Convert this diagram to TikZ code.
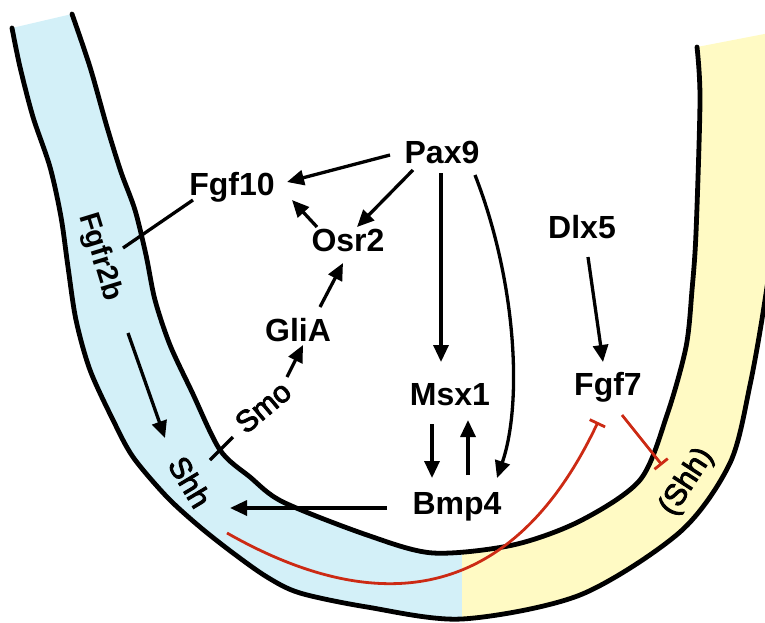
\documentclass[tikz,border=0pt]{standalone}
\usepackage{fontspec}
\setmainfont{Liberation Sans}
\newfontfamily\tissuefont{Liberation Sans}[FakeBold=3]
\usetikzlibrary{arrows.meta,calc}
\definecolor{bandblue}{RGB}{211,240,248}
\definecolor{bandyellow}{RGB}{255,250,196}
\definecolor{inhred}{RGB}{204,42,20}
\begin{document}
\begin{tikzpicture}[x=1pt,y=-1pt,
  gene/.style={font=\bfseries\fontsize{32}{36}\selectfont, inner sep=0pt},
  tissue/.style={font=\tissuefont\fontsize{30}{34}\selectfont, inner sep=0pt},
  arr/.style={line width=3.3pt, -{Triangle[length=17pt,width=15pt]}},
  link/.style={line width=3.3pt},
  inh/.style={line width=2.8pt, draw=inhred, -{Bar[width=17pt,line width=2.8pt]}},
  bandedge/.style={line width=4.8pt, line join=round, line cap=round}]
\useasboundingbox (0,0) rectangle (765,622);
% ---- band ----
\begin{scope}
\clip (0,0) rectangle (765,622);
\begin{scope}
\clip (-20,-20) rectangle (462,650);
\fill[bandblue] plot[smooth] coordinates {(12,28) (20,67) (33,117) (50,167) (61,217) (68,267) (76,320) (90,370) (113,420) (133,457) (167,497) (200,527) (233,553) (267,577) (300,593) (367,607) (462,619) (580,595) (680,532) (730,463) (750,385) (765,300) (778,200) (785,30)}
 -- plot[smooth] coordinates {(697,47) (700,100) (696,233) (692,290) (686,347) (667,415) (640,480) (580,521) (513,545) (433,553) (367,535) (283,502) (250,477) (220,450) (192,392) (170,345) (155,300) (146,255) (135,210) (121,172) (107,127) (90,67) (72,14)} -- cycle;
\end{scope}
\begin{scope}
\clip (462,-20) rectangle (800,650);
\fill[bandyellow] plot[smooth] coordinates {(12,28) (20,67) (33,117) (50,167) (61,217) (68,267) (76,320) (90,370) (113,420) (133,457) (167,497) (200,527) (233,553) (267,577) (300,593) (367,607) (462,619) (580,595) (680,532) (730,463) (750,385) (765,300) (778,200) (785,30)}
 -- plot[smooth] coordinates {(697,47) (700,100) (696,233) (692,290) (686,347) (667,415) (640,480) (580,521) (513,545) (433,553) (367,535) (283,502) (250,477) (220,450) (192,392) (170,345) (155,300) (146,255) (135,210) (121,172) (107,127) (90,67) (72,14)} -- cycle;
\end{scope}
\draw[bandedge] plot[smooth] coordinates {(12,28) (20,67) (33,117) (50,167) (61,217) (68,267) (76,320) (90,370) (113,420) (133,457) (167,497) (200,527) (233,553) (267,577) (300,593) (367,607) (462,619) (580,595) (680,532) (730,463) (750,385) (765,300) (778,200) (785,30)};
\draw[bandedge] plot[smooth] coordinates {(697,47) (700,100) (696,233) (692,290) (686,347) (667,415) (640,480) (580,521) (513,545) (433,553) (367,535) (283,502) (250,477) (220,450) (192,392) (170,345) (155,300) (146,255) (135,210) (121,172) (107,127) (90,67) (72,14)};
\end{scope}
% ---- nodes ----
\node[gene] (Pax9) at (442,152) {Pax9};
\node[gene] (Fgf10) at (232,187) {Fgf10};
\node[gene] (Osr2) at (348,240) {Osr2};
\node[gene] (GliA) at (298,330) {GliA};
\node[gene] (Msx1) at (450,395) {Msx1};
\node[gene] (Bmp4) at (457,507) {Bmp4};
\node[gene] (Dlx5) at (582,227) {Dlx5};
\node[gene] (Fgf7) at (608,387) {Fgf7};
\node[gene, font=\bfseries\fontsize{29}{32}\selectfont, rotate=-73] (Fgfr2b) at (100,257) {Fgfr2b};
\node[tissue, rotate=-59] (Shh) at (190,482) {Shh};
\node[tissue, rotate=40] (Smo) at (263,407) {Smo};
\node[tissue, rotate=57] (Shh2) at (687,482) {(Shh)};
% ---- connectors ----
\draw[arr] ($(Pax9)+(-52,3)$) -- ($(Fgf10)+(55,-5)$);
\draw[arr] ($(Pax9)+(-29,18)$) -- ($(Osr2)+(9,-13)$);
\draw[arr] ($(Osr2)+(-31,-13)$) -- ($(Fgf10)+(60,13)$);
\draw[arr] ($(GliA)+(22,-23)$) -- ($(Osr2)+(-5,23)$);
\draw[arr] ($(Pax9)+(-1,21)$) -- ($(Msx1)+(-9,-33)$);
\draw[arr] ($(Pax9)+(33,23)$) .. controls ($(Pax9)+(74,128)$) and ($(Bmp4)+(66,-105)$) .. ($(Bmp4)+(40,-29)$);
\draw[arr] ($(Msx1)+(-18,29)$) -- ($(Bmp4)+(-25,-29)$);
\draw[arr] ($(Bmp4)+(11,-32)$) -- ($(Msx1)+(18,25)$);
\draw[arr] ($(Bmp4)+(-70,1)$) -- ($(Shh)+(40,26)$);
\draw[arr] ($(Fgfr2b)+(28,76)$) -- ($(Shh)+(-25,-44)$);
\draw[link] ($(Fgf10)+(-39,13)$) -- ($(Fgfr2b)+(23,-9)$);
\draw[link] ($(Shh)+(20,-22)$) -- ($(Smo)+(-30,30)$);
\draw[arr] ($(Smo)+(24,-30)$) -- ($(GliA)+(5,15)$);
\draw[arr] ($(Dlx5)+(6,30)$) -- ($(Fgf7)+(-5,-25)$);
\draw[inh] ($(Fgf7)+(14,28)$) -- ($(Shh2)+(-25,-17)$);
\draw[inh] ($(Shh)+(37,51)$) .. controls ($(Shh)+(190,138)$) and ($(Fgf7)+(-95,215)$) .. ($(Fgf7)+(-10,35)$);
\end{tikzpicture}
\end{document}
